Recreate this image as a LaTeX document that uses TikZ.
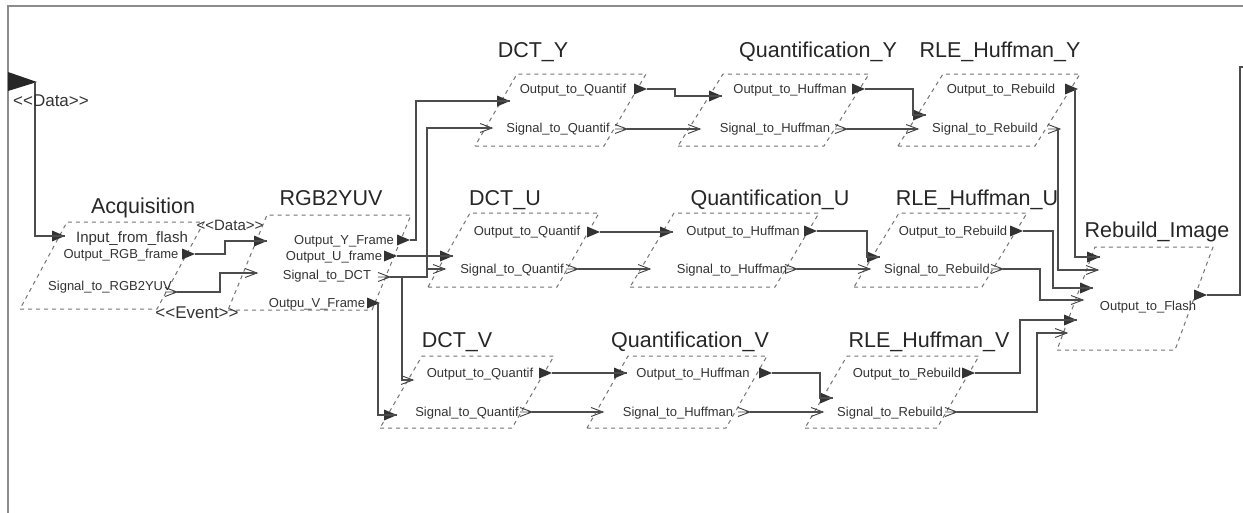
\documentclass[tikz,border=0pt]{standalone}
\usepackage{fontspec}
\setmainfont{Liberation Sans}
\usetikzlibrary{calc}
\tikzset{
	wire/.style={line width=1.2pt, black!70},
	border/.style={line width=1pt, black!55, dash pattern=on 4pt off 4pt},
	frame/.style={line width=1.5pt, black!45},
	title/.style={anchor=base, inner sep=0pt, text=black!85, font=\fontsize{21.5}{24}\selectfont},
	portlbl/.style={anchor=base, inner sep=0pt, text=black!80, font=\fontsize{13}{15}\selectfont},
}
\newcommand{\umlblock}[5]{
	\draw[border] (#2) coordinate (#1-bl) -- ++(#3,0) coordinate (#1-br)
	-- ++(#5,-#4) coordinate (#1-tr) -- ++(-#3,0) coordinate (#1-tl) -- cycle;
}
\newcommand{\dport}[2]{
	\coordinate (#1) at (#2);
	\fill[black!80] (#1) -- ++(-13,-5.5) -- ++(0,11) -- cycle;
}
\newcommand{\eport}[2]{
	\coordinate (#1) at (#2);
	\draw[black!75, line width=0.9pt] (#1) ++(-12,-4.5) -- (#1) -- ++(-12,4.5) (#1) -- ++(-12,0);
}

\begin{document}
\begin{tikzpicture}[x=1pt, y=-1pt]
	\useasboundingbox (0,0) rectangle (1243,512);
	\draw[frame] (1250,6) -- (8,6) -- (8,520);
	
	% blocks
	\umlblock{acq}{20,309}{137}{87}{47}
	\umlblock{rgb}{228,310}{144}{95}{39}
	\umlblock{dcty}{475,146}{129}{72}{42}
	\umlblock{qy}{678,146}{146}{72}{45}
	\umlblock{rley}{898,146}{137}{72}{45}
	\umlblock{dctu}{428,287}{129}{74}{42}
	\umlblock{qu}{630,287}{145}{74}{44}
	\umlblock{rleu}{854,287}{128}{74}{45}
	\umlblock{dctv}{380,428}{132}{72}{42}
	\umlblock{qv}{587,428}{139}{72}{41}
	\umlblock{rlev}{805,428}{132}{72}{42}
	\umlblock{rb}{1057,350}{118}{103}{38}
	
	\node[title] (acq) at (143,213) {Acquisition};
	\node[title] (rgb) at (331,205) {RGB2YUV};
	\node[title] (dcty) at (533,57) {DCT\_Y};
	\node[title] (qy) at (818,57) {Quantification\_Y};
	\node[title] (rley) at (1000,57) {RLE\_Huffman\_Y};
	\node[title] (dctu) at (505,205) {DCT\_U};
	\node[title] (qu) at (770,205) {Quantification\_U};
	\node[title] (rleu) at (977,205) {RLE\_Huffman\_U};
	\node[title] (dctv) at (457,347) {DCT\_V};
	\node[title] (qv) at (690,347) {Quantification\_V};
	\node[title] (rlev) at (929,347) {RLE\_Huffman\_V};
	\node[title] (rb) at (1157,237) {Rebuild\_Image};
	
	% ports
	\fill[black!85] (8,72) -- (37,82) -- (8,91) -- cycle;
	\coordinate (flag) at (35,82);
	\coordinate (flashout) at (1250,67);
	\dport{acq-in}{65,236}
	\dport{acq-out}{195,254}
	\eport{acq-sig}{177,292}
	\dport{rgb-in}{267,241}
	\eport{rgb-sin}{257,273}
	\dport{rgb-y}{410,240}
	\dport{rgb-u}{397,256}
	\eport{rgb-sig}{390,277}
	\dport{rgb-v}{380,303}
	\dport{dcty-in}{510,101}
	\eport{dcty-sin}{492,128}
	\dport{dcty-out}{647,89}
	\eport{dcty-sig}{627,129}
	\dport{qy-in}{722,96}
	\eport{qy-sin}{700,129}
	\dport{qy-out}{865,89}
	\eport{qy-sig}{847,129}
	\dport{rley-in}{926,115}
	\eport{rley-sin}{918,129}
	\dport{rley-out}{1078,89}
	\eport{rley-sig}{1060,129}
	\dport{dctu-in}{453,256}
	\eport{dctu-sin}{445,269}
	\dport{dctu-out}{600,232}
	\eport{dctu-sig}{578,269}
	\dport{qu-in}{673,232}
	\eport{qu-sin}{650,269}
	\dport{qu-out}{817,231}
	\eport{qu-sig}{797,269}
	\dport{rleu-in}{880,257}
	\eport{rleu-sin}{870,269}
	\dport{rleu-out}{1023,231}
	\eport{rleu-sig}{1003,269}
	\eport{dctv-in1}{413,380}
	\dport{dctv-in2}{397,415}
	\dport{dctv-out}{552,373}
	\eport{dctv-sig}{532,412}
	\dport{qv-in}{627,373}
	\eport{qv-sin}{603,412}
	\dport{qv-out}{772,373}
	\eport{qv-sig}{750,412}
	\dport{rlev-in}{833,398}
	\eport{rlev-sin}{823,412}
	\dport{rlev-out}{975,373}
	\eport{rlev-sig}{957,412}
	\dport{rb-in1}{1100,257}
	\eport{rb-in2}{1098,270}
	\dport{rb-in3}{1093,288}
	\eport{rb-in4}{1083,300}
	\dport{rb-in5}{1077,320}
	\eport{rb-in6}{1067,333}
	\dport{rb-out}{1207,295}
	
	% connectors
	\draw[wire] (flag) |- (acq-in);
	\draw[wire] (acq-out) -- ++(30,0) |- (rgb-in);
	\draw[wire] (acq-sig) -- ++(43,0) |- (rgb-sin);
	\draw[wire] (rgb-y) -- ++(6,0) |- (dcty-in);
	\draw[wire] (rgb-u) -- (dctu-in);
	\draw[wire] (rgb-sig) -- ++(37,0) coordinate (sigsplit) |- (dcty-sin);
	\draw[wire] (sigsplit |- dctu-sin) -- (dctu-sin);
	\draw[wire] ([xshift=12pt]rgb-sig) |- (dctv-in1);
	\draw[wire] ([xshift=-2pt]rgb-v) |- (dctv-in2);
	\draw[wire] (dcty-out) -- ++(28,0) |- (qy-in);
	\draw[wire] (dcty-sig) -- (qy-sin);
	\draw[wire] (qy-out) -- ++(48,0) |- (rley-in);
	\draw[wire] (qy-sig) -- (rley-sin);
	\draw[wire] ([xshift=-3pt]rley-out) |- (rb-in1);
	\draw[wire] ([xshift=-2pt]rley-sig) |- (rb-in2);
	\draw[wire] (dctu-out) -- (qu-in);
	\draw[wire] (dctu-sig) -- (qu-sin);
	\draw[wire] (qu-out) -- ++(50,0) |- (rleu-in);
	\draw[wire] (qu-sig) -- (rleu-sin);
	\draw[wire] (rleu-out) -- ++(30,0) |- (rb-in3);
	\draw[wire] (rleu-sig) -- ++(37,0) |- (rb-in4);
	\draw[wire] (dctv-out) -- (qv-in);
	\draw[wire] (dctv-sig) -- (qv-sin);
	\draw[wire] (qv-out) -- ++(48,0) |- (rlev-in);
	\draw[wire] (qv-sig) -- (rlev-sin);
	\draw[wire] (rlev-out) -- ++(45,0) |- (rb-in5);
	\draw[wire] (rlev-sig) -- ++(80,0) |- (rb-in6);
	\draw[wire] (rb-out) -- ++(33,0) |- (flashout);
	
	% labels
	\node[portlbl, font=\fontsize{17}{19}\selectfont] (flaglbl) at (51,106) {<{}<Data>{}>};
	\node[portlbl, font=\fontsize{15}{17}\selectfont] (datalbl) at (230,230) {<{}<Data>{}>};
	\node[portlbl, font=\fontsize{17}{19}\selectfont] (eventlbl) at (197,318) {<{}<Event>{}>};
	\node[portlbl, font=\fontsize{15}{17}\selectfont] (acq-inl) at (132,242) {Input\_from\_flash};
	\node[portlbl] (acq-outl) at (121,258) {Output\_RGB\_frame};
	\node[portlbl] (acq-sigl) at (110,290) {Signal\_to\_RGB2YUV};
	\node[portlbl] (rgb-yl) at (344,244) {Output\_Y\_Frame};
	\node[portlbl] (rgb-ul) at (334,260) {Output\_U\_frame};
	\node[portlbl] (rgb-sigl) at (327,279) {Signal\_to\_DCT};
	\node[portlbl] (rgb-vl) at (317,307) {Outpu\_V\_Frame};
	\foreach \nm/\xo/\xs/\yo/\ys/\to/\ts in {
		dcty/573/558/93/132/Quantif/Quantif,
		qy/790/775/93/132/Huffman/Huffman,
		rley/1001/985/93/132/Rebuild/Rebuild,
		dctu/527/512/235/273/Quantif/Quantif,
		qu/743/732/235/273/Huffman/Huffman,
		rleu/953/937/235/273/Rebuild/Rebuild,
		dctv/480/467/377/416/Quantif/Quantif,
		qv/693/678/377/416/Huffman/Huffman,
		rlev/907/890/377/416/Rebuild/Rebuild} {
		\node[portlbl] (\nm-outl) at (\xo,\yo) {Output\_to\_\to};
		\node[portlbl] (\nm-sigl) at (\xs,\ys) {Signal\_to\_\ts};
	}
	\node[portlbl] (rb-outl) at (1148,310) {Output\_to\_Flash};
\end{tikzpicture}
\end{document}
